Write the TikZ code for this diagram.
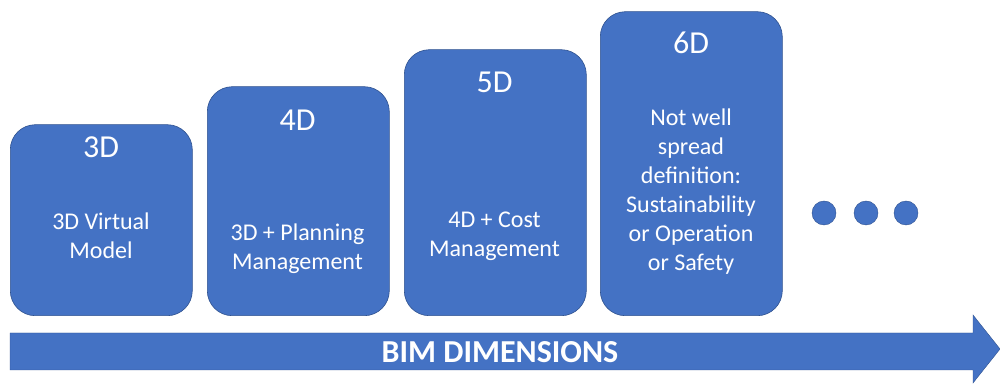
\documentclass[tikz,border=0pt]{standalone}
\usepackage{fontspec}
\setmainfont{Carlito}
\definecolor{bimblue}{HTML}{4472C4}
\definecolor{bimedge}{HTML}{2F528F}

\begin{document}
\begin{tikzpicture}[x=1pt, y=1pt,
    dimbox/.style={draw=bimedge, line width=0.6pt, fill=bimblue,
        rounded corners=25pt, minimum width=182pt, inner sep=0pt,
        anchor=south west},
    dimtitle/.style={text=white, font=\fontsize{32}{38}\selectfont,
        inner sep=0pt, anchor=base},
    dimtext/.style={text=white, font=\fontsize{24}{29}\selectfont,
        align=center, inner sep=0pt, anchor=base},
    moredot/.style={circle, fill=bimblue, draw=bimedge, line width=0.4pt,
        minimum size=24pt, inner sep=0pt}]

\useasboundingbox (0,0) rectangle (1000,385);

% Dimension boxes
\node[dimbox, minimum height=191pt] (box3) at (10,69) {};
\node[dimbox, minimum height=229pt] (box4) at (207,69) {};
\node[dimbox, minimum height=266pt] (box5) at (404,69) {};
\node[dimbox, minimum height=304pt] (box6) at (600,69) {};

% Titles
\node[dimtitle] (title3) at (101,227) {3D};
\node[dimtitle] (title4) at (297.5,254) {4D};
\node[dimtitle] (title5) at (494.5,292) {5D};
\node[dimtitle] (title6) at (691,331) {6D};

% Descriptions (anchored on the last line)
\node[dimtext] (text3) at (101,126) {3D Virtual\\Model};
\node[dimtext] (text4) at (297.5,115) {3D + Planning\\Management};
\node[dimtext] (text5) at (494.5,128) {4D + Cost\\Management};
\node[dimtext] (text6) at (691,114)
    {Not well\\spread\\definition:\\Sustainability\\or Operation\\or Safety};

% More dimensions
\node[moredot] (dot1) at (824,172) {};
\node[moredot] (dot2) at (866,172) {};
\node[moredot] (dot3) at (906,172) {};

% Arrow
\coordinate (tail) at (10,33.5);
\coordinate (tip) at (1000,36);
\fill[bimblue, draw=bimedge, line width=0.4pt]
    (tail) ++(0,-18.5) -- (973,15) -- (973,2) -- (tip) -- (973,70)
    -- (973,52) -- (10,52) -- cycle;
\node[text=white, font=\bfseries\fontsize{32}{38}\selectfont]
    (dimlabel) at (500,33) {BIM DIMENSIONS};

\end{tikzpicture}
\end{document}
